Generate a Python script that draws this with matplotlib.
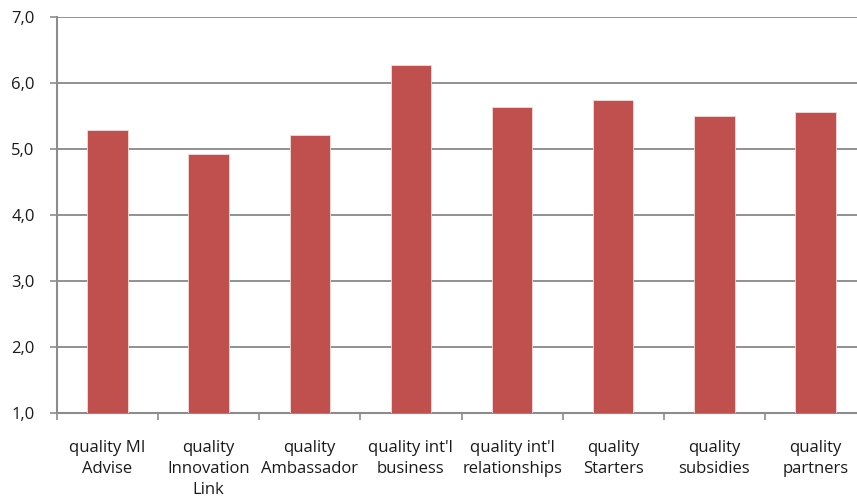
import numpy as np
import matplotlib.pyplot as plt

# scores per quality item
categories = ["quality MI\nAdvise", "quality\nInnovation\nLink", "quality\nAmbassador",
              "quality int'l\nbusiness", "quality int'l\nrelationships", "quality\nStarters",
              "quality\nsubsidies", "quality\npartners"]
scores = [5.29, 4.92, 5.22, 6.28, 5.64, 5.75, 5.50, 5.57]
yticks = [1.0, 2.0, 3.0, 4.0, 5.0, 6.0, 7.0]

plt.rcParams['font.family'] = ['Open Sans', 'DejaVu Sans']
fig = plt.figure(figsize=(8.57, 4.99), dpi=100)
ax = fig.add_axes([57 / 857, (499 - 412.7) / 499, 809 / 857, 395.4 / 499])

x = np.arange(len(categories))
ax.bar(x, scores, width=0.4, bottom=0, color="#C0504D", edgecolor="#F2DCDB",
       linewidth=0.6, zorder=3)

ax.set_ylim(1, 7)
ax.set_xlim(-0.5, len(categories) - 0.5)
ax.set_yticks(yticks)
ax.set_yticklabels([f"{v:.1f}".replace(".", ",") for v in yticks])
ax.yaxis.grid(True, color="#888888", linewidth=1.3, zorder=0)

# boundary ticks on x axis, labels centred under bars
ax.set_xticks(np.arange(-0.5, len(categories) + 0.5, 1.0))
ax.set_xticklabels([])
ax.set_xticks(x, minor=True)
ax.set_xticklabels(categories, minor=True, fontsize=12, color="#1a1a1a", linespacing=1.38)
ax.tick_params(axis="x", which="minor", length=0, pad=20)
ax.tick_params(axis="x", which="major", length=5, width=1.2, color="#8C8C8C")
ax.tick_params(axis="y", length=5, width=1.2, color="#8C8C8C", labelsize=12,
               labelcolor="#1a1a1a", pad=11)

for side in ["top", "right"]:
    ax.spines[side].set_visible(False)
for side in ["left", "bottom"]:
    ax.spines[side].set_color("#8C8C8C")
    ax.spines[side].set_linewidth(1.5)

fig.savefig("out.png", dpi=100)
